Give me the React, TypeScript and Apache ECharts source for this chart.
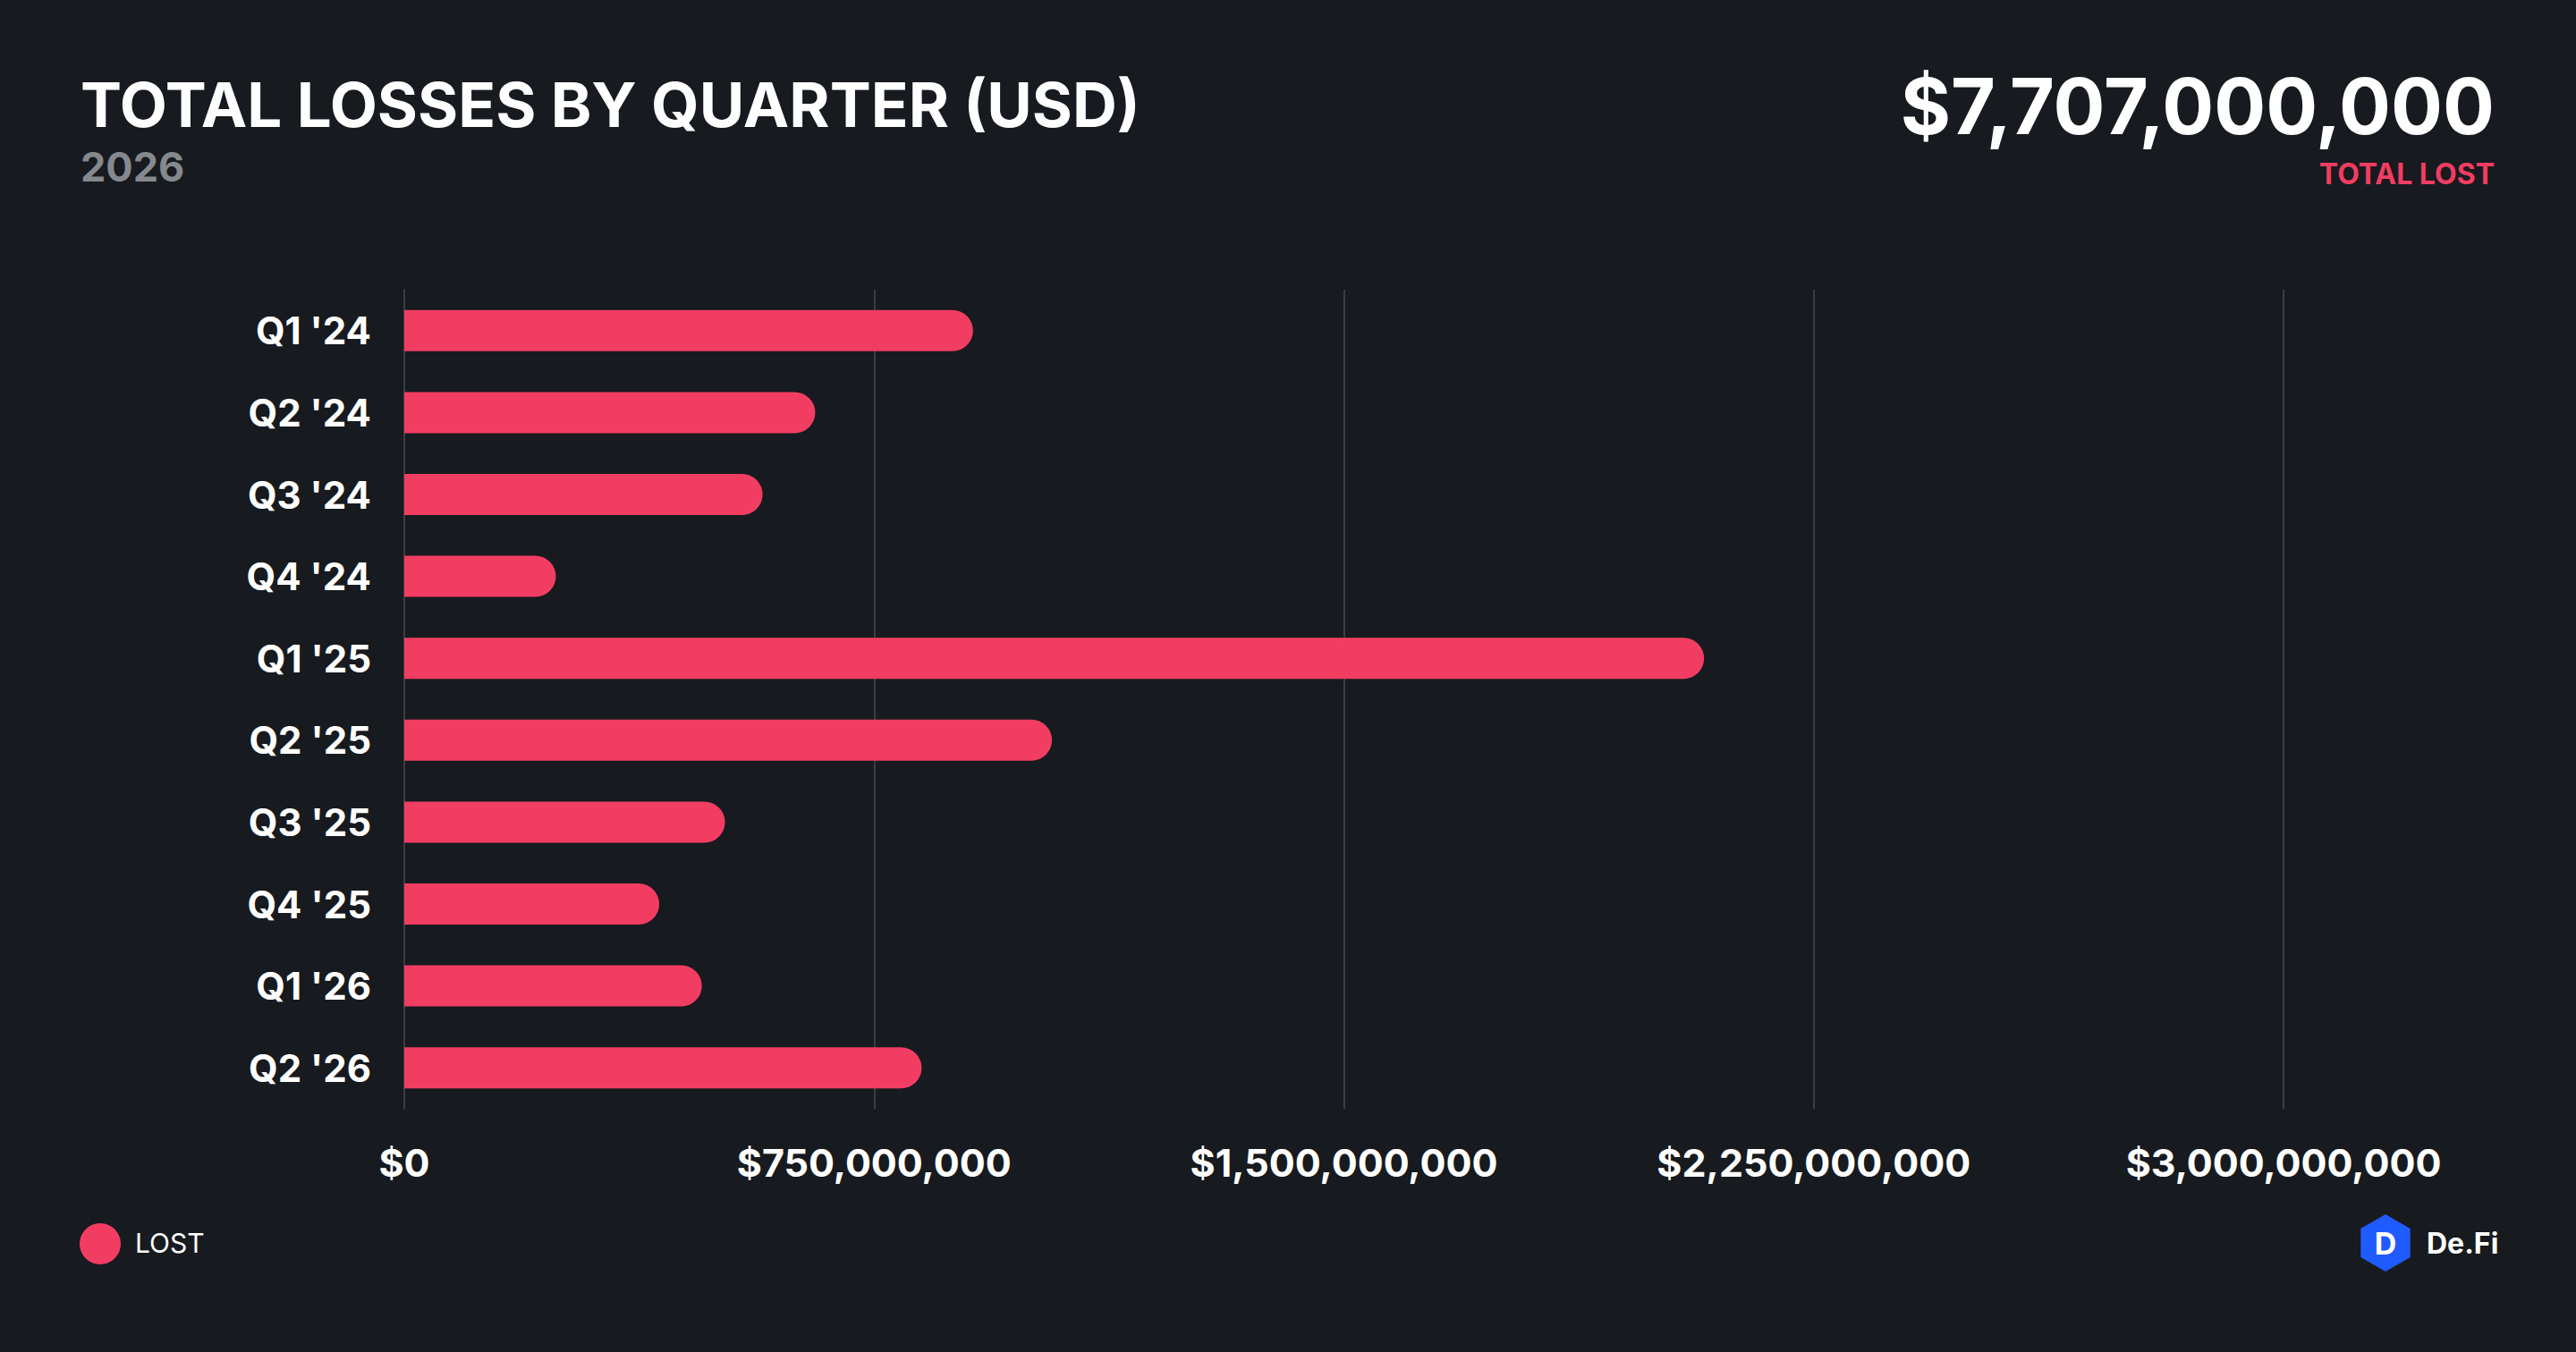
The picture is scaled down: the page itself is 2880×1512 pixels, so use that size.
import * as echarts from 'echarts';
import React, { useEffect, useRef } from 'react';

const quarters = ["Q1 '24", "Q2 '24", "Q3 '24", "Q4 '24", "Q1 '25", "Q2 '25", "Q3 '25", "Q4 '25", "Q1 '26", "Q2 '26"];
const lost = [908e6, 656e6, 572e6, 242e6, 2075e6, 1034e6, 512e6, 407e6, 475e6, 826e6];
const xTicks = [0, 750e6, 1500e6, 2250e6, 3000e6];

const FONT = 'Inter, "Noto Sans", sans-serif';
const RED = '#f23d63';

const fmt = (v: number) => '$' + Math.round(v).toLocaleString('en-US');

const hex = (cx: number, cy: number, r: number) =>
  [0, 1, 2, 3, 4, 5].map((i) => {
    const a = (Math.PI / 3) * i + Math.PI / 6;
    return [cx + r * Math.cos(a), cy + r * Math.sin(a)];
  });

const App: React.FC = () => {
  const ref = useRef<HTMLDivElement>(null);

  useEffect(() => {
    document.body.style.margin = '0';
    const chart = echarts.init(ref.current, null, { renderer: 'svg' });
    const total = lost.reduce((a, b) => a + b, 0);
    chart.setOption({
      animation: false,
      backgroundColor: '#171a1e',
      textStyle: { fontFamily: FONT },
      grid: { left: 452, right: 327, top: 324, bottom: 272 },
      xAxis: {
        type: 'value',
        min: 0,
        max: xTicks[xTicks.length - 1],
        interval: xTicks[1] - xTicks[0],
        axisLine: { show: false },
        axisTick: { show: false },
        splitLine: { lineStyle: { color: '#3a3e44', width: 2 } },
        axisLabel: {
          color: '#ffffff',
          fontSize: 43,
          fontWeight: 'bold',
          fontFamily: FONT,
          margin: 38,
          formatter: (v: number) => fmt(v),
        },
      },
      yAxis: {
        type: 'category',
        data: quarters,
        inverse: true,
        axisLine: { show: true, lineStyle: { color: '#3a3e44', width: 2 } },
        axisTick: { show: false },
        axisLabel: { color: '#ffffff', fontSize: 42, fontWeight: 'bold', fontFamily: FONT, margin: 37 },
      },
      series: [
        {
          type: 'bar',
          name: 'LOST',
          data: lost,
          barWidth: 46,
          itemStyle: { color: RED, borderRadius: [0, 23, 23, 0] },
        },
      ],
      graphic: [
        { type: 'text', left: 90, top: 82, style: { text: 'TOTAL LOSSES BY QUARTER (USD)', fill: '#fff', font: `bold 69px ${FONT}` } },
        { type: 'text', left: 90, top: 164, style: { text: '2026', fill: '#85888c', font: `bold 45px ${FONT}` } },
        { type: 'text', right: 91, top: 76, style: { text: fmt(total), fill: '#fff', font: `bold 86px ${FONT}` } },
        { type: 'text', right: 91, top: 178, style: { text: 'TOTAL LOST', fill: RED, font: `bold 32px ${FONT}` } },
        { type: 'circle', shape: { cx: 112, cy: 1391, r: 23 }, style: { fill: RED } },
        { type: 'text', left: 151, top: 1375, style: { text: 'LOST', fill: '#fff', font: `30px ${FONT}` } },
        { type: 'polygon', shape: { points: hex(2667, 1390, 32) }, style: { fill: '#1f5bff' } },
        { type: 'text', x: 2667, y: 1390, style: { text: 'D', fill: '#fff', font: `bold 34px ${FONT}`, align: 'center', verticalAlign: 'middle' } },
        { type: 'text', left: 2713, top: 1374, style: { text: 'De.Fi', fill: '#fff', font: `bold 32px ${FONT}` } },
      ],
    });
    return () => chart.dispose();
  }, []);

  return <div ref={ref} style={{ width: 2880, height: 1512 }} />;
};

export default App;
